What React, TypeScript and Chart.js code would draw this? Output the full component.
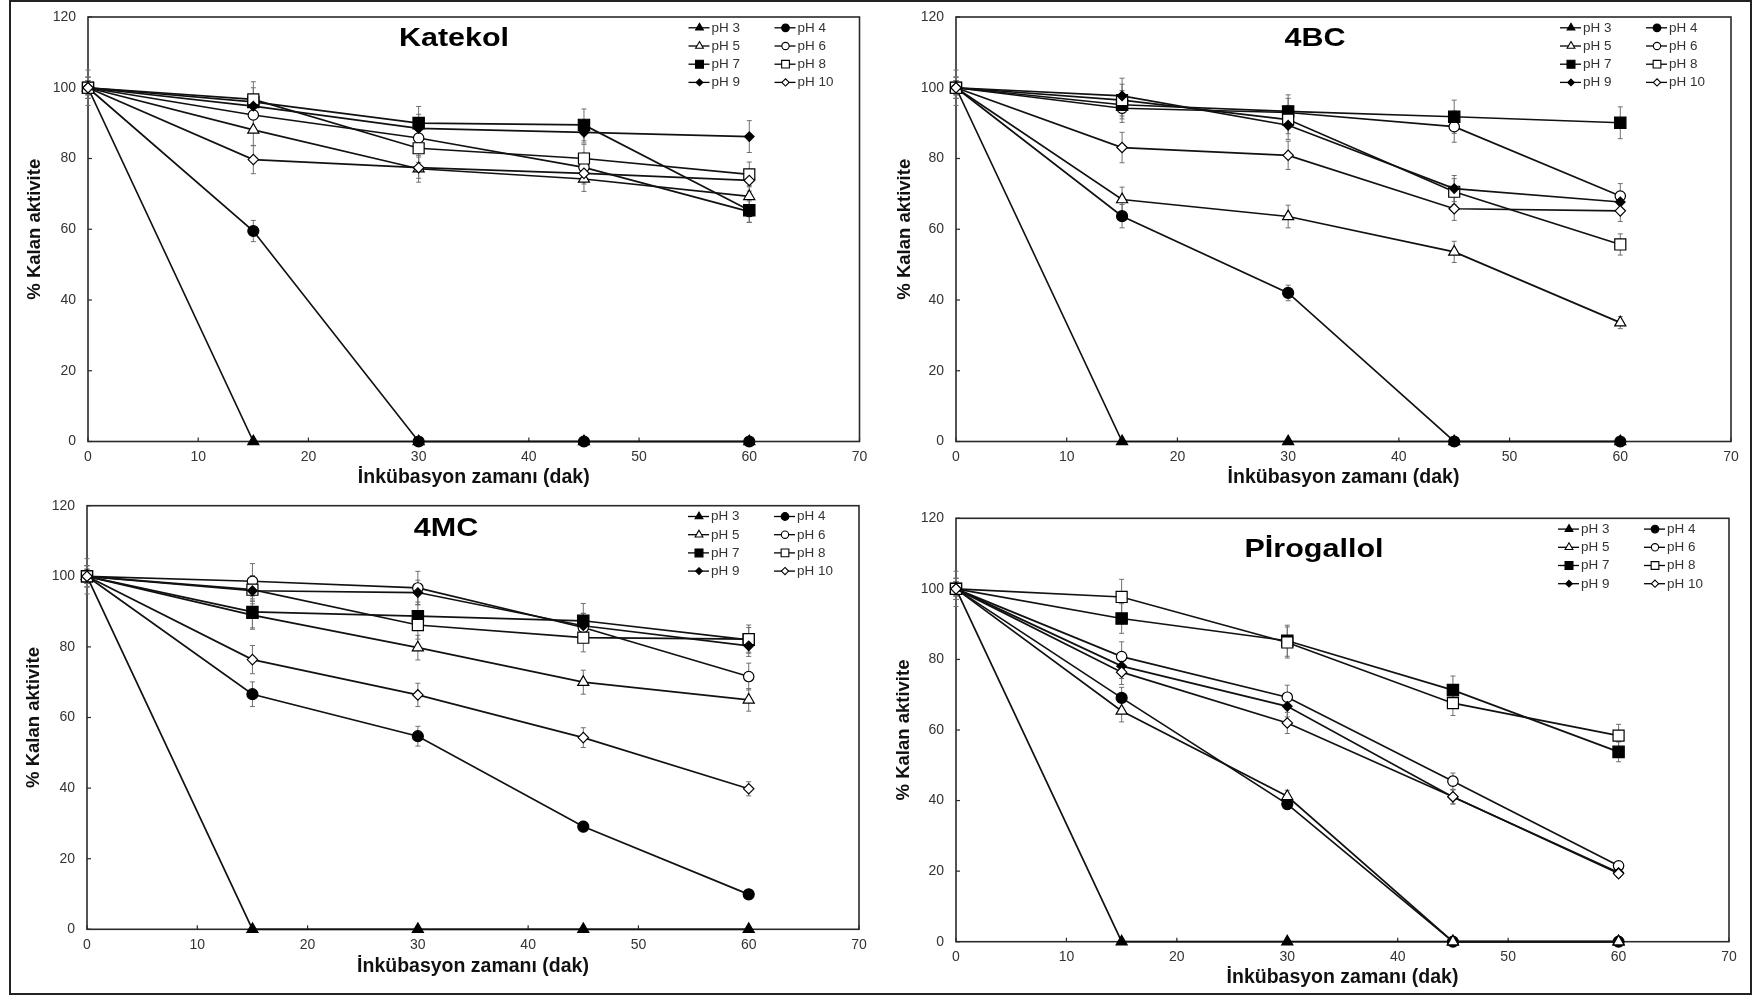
import React, { useEffect, useRef } from 'react';
import { Chart, registerables } from 'chart.js';

Chart.register(...registerables);

// ---------------- data ----------------
const times = [0, 15, 30, 45, 60];
const seriesLabels = ['pH 3', 'pH 4', 'pH 5', 'pH 6', 'pH 7', 'pH 8', 'pH 9', 'pH 10'];
const xAxisTitle = 'İnkübasyon zamanı (dak)';
const yAxisTitle = '% Kalan aktivite';
const panelTitles = ['Katekol', '4BC', '4MC', 'Pİrogallol'];
const xRange = [0, 70, 10];
const yRange = [0, 120, 20];

// Katekol (pH 3 … pH 10)
const katekolValues = [
  [100, 0, 0, 0, 0],
  [100, 59.5, 0, 0, 0],
  [100, 88.1, 77.1, 74.2, 69.3],
  [100, 92.3, 85.8, 77.5, 65.0],
  [100, 96.0, 90.0, 89.5, 65.4],
  [100, 96.7, 82.9, 80.0, 75.5],
  [100, 94.8, 88.5, 87.4, 86.2],
  [100, 79.7, 77.4, 75.8, 73.8],
];
const katekolErrors = [
  [0, 0, 0, 0, 0],
  [2, 3, 0, 0, 0],
  [3, 4.5, 3.8, 3.5, 3],
  [2, 4, 4, 4, 3],
  [3, 4, 4.7, 4.5, 3.5],
  [5, 5, 4, 4, 3.5],
  [2, 3, 4, 3, 4.5],
  [3, 4, 3, 3, 3],
];

// 4BC
const bcValues = [
  [100, 0, 0, 0, 0],
  [100, 63.7, 42.0, 0, 0],
  [100, 68.4, 63.6, 53.6, 33.6],
  [100, 94.2, 93.0, 89.0, 69.4],
  [100, 95.2, 93.3, 91.8, 90.1],
  [100, 96.5, 91.0, 70.6, 55.7],
  [100, 97.7, 89.4, 71.5, 67.7],
  [100, 83.1, 80.9, 65.8, 65.2],
];
const bcErrors = [
  [0, 0, 0, 0, 0],
  [2, 3.3, 2.2, 0, 0],
  [3, 3.5, 3.2, 3, 1.7],
  [2, 4, 4, 4.4, 3.5],
  [3, 4, 4.7, 4.7, 4.5],
  [5, 4.5, 4, 3.7, 3],
  [2, 5, 4, 3.7, 3],
  [3, 4.3, 4, 3.3, 3],
];

// 4MC
const mcValues = [
  [100, 0, 0, 0, 0],
  [100, 66.6, 54.7, 29.1, 9.9],
  [100, 89.0, 79.8, 70.0, 65.0],
  [100, 98.6, 96.7, 85.5, 71.6],
  [100, 89.9, 88.7, 87.4, 82.0],
  [100, 96.2, 86.2, 82.6, 82.2],
  [100, 95.9, 95.4, 86.0, 80.3],
  [100, 76.4, 66.4, 54.3, 39.8],
];
const mcErrors = [
  [0, 0, 0, 0, 0],
  [2, 3.5, 2.8, 1.5, 1],
  [3, 4, 3.5, 3.4, 3.2],
  [2, 5, 4.7, 4, 3.8],
  [3, 4.5, 4, 4.9, 3.5],
  [5, 4, 4, 4, 4],
  [2, 3, 3.5, 3.5, 3],
  [3, 4, 3.3, 2.8, 2],
];

// Pirogallol
const piroValues = [
  [100, 0, 0, 0, 0],
  [100, 69.1, 39.0, 0, 0],
  [100, 65.4, 41.2, 0, 0],
  [100, 80.8, 69.3, 45.5, 21.5],
  [100, 91.6, 85.3, 71.3, 53.8],
  [100, 97.7, 84.8, 67.6, 58.4],
  [100, 78.1, 66.7, 41.0, 19.6],
  [100, 76.4, 62.0, 41.1, 19.3],
];
const piroErrors = [
  [0, 0, 0, 0, 0],
  [2, 3, 1.5, 0, 0],
  [3, 3.1, 1.7, 0, 0],
  [2, 4.2, 3.4, 2.3, 1],
  [3, 4.2, 4.4, 4, 2.8],
  [5, 5, 4.4, 3.5, 3.2],
  [2, 3.5, 3, 2, 1],
  [3, 3.5, 3, 2, 1],
];

// ---------------- styles / layout ----------------
const FONT = '"Liberation Sans", Arial, Helvetica, sans-serif';

const markerStyles = [
  { style: 'triangle', filled: true, r: 6.4 },
  { style: 'circle', filled: true, r: 5.5 },
  { style: 'triangle', filled: false, r: 6.4 },
  { style: 'circle', filled: false, r: 5.2 },
  { style: 'rect', filled: true, r: 8.0 },
  { style: 'rect', filled: false, r: 7.8 },
  { style: 'rectRot', filled: true, r: 4.8 },
  { style: 'rectRot', filled: false, r: 5.2 },
];

const panelGeometry = [
  { left: 12, top: 3, width: 866, height: 493, plot: { l: 88, t: 17, r: 859.5, b: 441.5 }, yTitleX: 34.5, xTitleY: 478, titleDX: 366, titleDY: 29.2 },
  { left: 880, top: 3, width: 868, height: 493, plot: { l: 956, t: 17, r: 1731, b: 441.5 }, yTitleX: 905, xTitleY: 478, titleDX: 359, titleDY: 29.2 },
  { left: 12, top: 496, width: 866, height: 496, plot: { l: 87, t: 505.7, r: 859, b: 929.3 }, yTitleX: 34, xTitleY: 966.5, titleDX: 359, titleDY: 30 },
  { left: 880, top: 496, width: 868, height: 496, plot: { l: 956, t: 518.3, r: 1729, b: 941.7 }, yTitleX: 904, xTitleY: 978, titleDX: 358, titleDY: 38.5 },
];

const panels = [
  { title: panelTitles[0], values: katekolValues, errors: katekolErrors },
  { title: panelTitles[1], values: bcValues, errors: bcErrors },
  { title: panelTitles[2], values: mcValues, errors: mcErrors },
  { title: panelTitles[3], values: piroValues, errors: piroErrors },
];

function drawMarker(ctx: CanvasRenderingContext2D, style: string, x: number, y: number, r: number, filled: boolean) {
  ctx.beginPath();
  if (style === 'circle') {
    ctx.arc(x, y, r, 0, Math.PI * 2);
  } else if (style === 'triangle') {
    ctx.moveTo(x, y - r);
    ctx.lineTo(x + r * 0.866, y + r * 0.5);
    ctx.lineTo(x - r * 0.866, y + r * 0.5);
    ctx.closePath();
  } else if (style === 'rect') {
    const s = r * 0.7071;
    ctx.rect(x - s, y - s, 2 * s, 2 * s);
  } else {
    ctx.moveTo(x, y - r);
    ctx.lineTo(x + r, y);
    ctx.lineTo(x, y + r);
    ctx.lineTo(x - r, y);
    ctx.closePath();
  }
  ctx.fillStyle = filled ? '#000' : '#fff';
  ctx.fill();
  ctx.lineWidth = 1.1;
  ctx.strokeStyle = '#000';
  ctx.stroke();
}

function makeDecorPlugin(panel: any, geom: any) {
  return {
    id: 'panelDecor',
    beforeDatasetsDraw(chart: any) {
      const { ctx, chartArea: a, scales } = chart;
      ctx.save();
      // plot border
      ctx.strokeStyle = '#2a2a2a';
      ctx.lineWidth = 1.6;
      ctx.strokeRect(a.left, a.top, a.right - a.left, a.bottom - a.top);
      // inside tick marks
      ctx.lineWidth = 1.2;
      scales.x.ticks.forEach((t: any) => {
        const px = scales.x.getPixelForValue(t.value);
        ctx.beginPath();
        ctx.moveTo(px, a.bottom);
        ctx.lineTo(px, a.bottom - 4);
        ctx.stroke();
      });
      scales.y.ticks.forEach((t: any) => {
        const py = scales.y.getPixelForValue(t.value);
        ctx.beginPath();
        ctx.moveTo(a.left, py);
        ctx.lineTo(a.left + 4, py);
        ctx.stroke();
      });
      // error bars
      ctx.strokeStyle = '#707070';
      ctx.lineWidth = 1;
      chart.data.datasets.forEach((ds: any, di: number) => {
        const meta = chart.getDatasetMeta(di);
        const errs = panel.errors[di];
        meta.data.forEach((pt: any, i: number) => {
          const e = errs[i];
          if (!e) return;
          const v = ds.data[i].y;
          const y1 = scales.y.getPixelForValue(v + e);
          const y2 = scales.y.getPixelForValue(Math.max(0, v - e));
          const x = pt.x;
          ctx.beginPath();
          ctx.moveTo(x, y1);
          ctx.lineTo(x, y2);
          ctx.moveTo(x - 2.5, y1);
          ctx.lineTo(x + 2.5, y1);
          ctx.moveTo(x - 2.5, y2);
          ctx.lineTo(x + 2.5, y2);
          ctx.stroke();
        });
      });
      ctx.restore();
    },
    afterDraw(chart: any) {
      const { ctx, chartArea: a } = chart;
      ctx.save();
      // panel title
      ctx.fillStyle = '#000';
      ctx.font = `bold 25px ${FONT}`;
      ctx.textAlign = 'center';
      ctx.textBaseline = 'alphabetic';
      ctx.translate(a.left + geom.titleDX, a.top + geom.titleDY);
      ctx.scale(1.22, 1);
      ctx.fillText(panel.title, 0, 0);
      ctx.restore();
      // legend (two columns)
      ctx.save();
      seriesLabels.forEach((lab, i) => {
        const col = i % 2;
        const row = Math.floor(i / 2);
        const x0 = a.right - (col === 0 ? 171 : 85);
        const y = a.top + 10.8 + 18.2 * row;
        ctx.strokeStyle = '#000';
        ctx.lineWidth = 1.3;
        ctx.beginPath();
        ctx.moveTo(x0, y);
        ctx.lineTo(x0 + 21, y);
        ctx.stroke();
        const m = markerStyles[i];
        drawMarker(ctx, m.style, x0 + 11, y, m.r * 0.7, m.filled);
        ctx.save();
        ctx.fillStyle = '#333';
        ctx.font = `12px ${FONT}`;
        ctx.textAlign = 'left';
        ctx.textBaseline = 'middle';
        ctx.translate(x0 + 23, y + 0.5);
        ctx.scale(1.12, 1);
        ctx.fillText(lab, 0, 0);
        ctx.restore();
      });
      ctx.restore();
    },
  };
}

function Panel({ index }: { index: number }) {
  const ref = useRef<HTMLCanvasElement>(null);
  const geom = panelGeometry[index];
  const panel = panels[index];

  useEffect(() => {
    const canvas = ref.current;
    if (!canvas) return;
    const yWidth = geom.plot.l - geom.left;
    const xHeight = geom.top + geom.height - geom.plot.b;
    const padTop = geom.plot.t - geom.top;
    const padRight = geom.left + geom.width - geom.plot.r;
    const yTitleSize = 18.5;
    const xTitleSize = 19.5;
    const yTitlePad = geom.yTitleX - geom.left - (yTitleSize * 1.2) / 2;
    const xTitlePad = Math.max(0, geom.top + geom.height - geom.xTitleY - (xTitleSize * 1.2) / 2);

    const datasets = panel.values.map((vals: number[], i: number) => {
      const m = markerStyles[i];
      return {
        label: seriesLabels[i],
        data: vals.map((v, j) => ({ x: times[j], y: v })),
        borderColor: '#111',
        borderWidth: 1.7,
        backgroundColor: m.filled ? '#000' : '#fff',
        pointStyle: m.style,
        pointRadius: m.r,
        pointBackgroundColor: m.filled ? '#000' : '#fff',
        pointBorderColor: '#000',
        pointBorderWidth: 1.2,
        tension: 0,
        fill: false,
        clip: false,
        order: seriesLabels.length - 1 - i,
      };
    });

    const chart = new Chart(canvas, {
      type: 'line',
      data: { datasets },
      options: {
        animation: false,
        responsive: false,
        devicePixelRatio: 1,
        events: [],
        layout: { padding: { left: 0, top: padTop, right: padRight, bottom: 0 } },
        plugins: { legend: { display: false }, tooltip: { enabled: false }, title: { display: false } },
        scales: {
          x: {
            type: 'linear',
            min: xRange[0],
            max: xRange[1],
            ticks: { stepSize: xRange[2], color: '#333', font: { family: FONT, size: 14 }, padding: 0, maxRotation: 0 },
            grid: { display: false, drawTicks: true, tickLength: 7.2 },
            border: { display: false },
            title: { display: true, text: xAxisTitle, color: '#111', font: { family: FONT, size: xTitleSize, weight: 'bold' }, padding: { top: 0, bottom: xTitlePad } },
            afterFit: (s: any) => { s.height = xHeight; },
          },
          y: {
            type: 'linear',
            min: yRange[0],
            max: yRange[1],
            ticks: { stepSize: yRange[2], color: '#333', font: { family: FONT, size: 14 }, padding: 0 },
            grid: { display: false, drawTicks: true, tickLength: 12 },
            border: { display: false },
            title: { display: true, text: yAxisTitle, color: '#111', font: { family: FONT, size: yTitleSize, weight: 'bold' }, padding: { top: yTitlePad, bottom: 0 } },
            afterFit: (s: any) => { s.width = yWidth; },
          },
        },
      } as any,
      plugins: [makeDecorPlugin(panel, geom)],
    } as any);
    return () => chart.destroy();
  }, []);

  return (
    <div style={{ position: 'absolute', left: geom.left, top: geom.top, width: geom.width, height: geom.height }}>
      <canvas ref={ref} width={geom.width} height={geom.height} style={{ display: 'block', width: geom.width, height: geom.height }} />
    </div>
  );
}

export default function App() {
  return (
    <div style={{ position: 'absolute', left: 0, top: 0, width: 1758, height: 995, background: '#fff', overflow: 'hidden' }}>
      <div style={{ position: 'absolute', left: 9, top: 0, width: 1743, height: 995, boxSizing: 'border-box', border: '2px solid #222' }} />
      {[0, 1, 2, 3].map((i) => (
        <Panel key={i} index={i} />
      ))}
    </div>
  );
}
